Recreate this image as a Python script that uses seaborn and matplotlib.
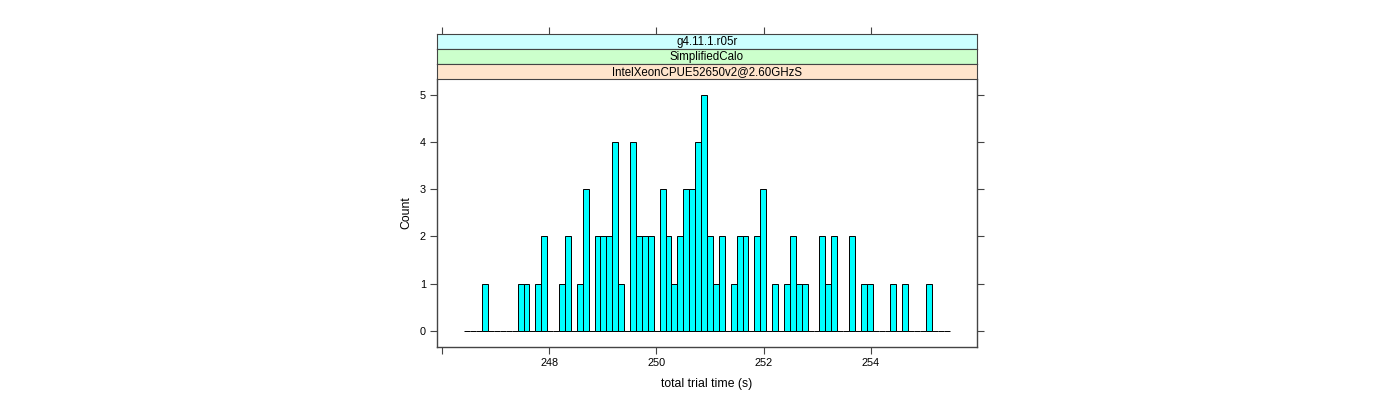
import matplotlib
matplotlib.use("Agg")
import matplotlib.pyplot as plt
import numpy as np
import pandas as pd
import seaborn as sns

# histogram of total trial time
trial_time = [246.81, 247.47, 247.58, 247.80, 247.91, 248.24, 248.35, 248.57, 248.68,
              248.90, 249.01, 249.13, 249.24, 249.35, 249.57, 249.68, 249.79, 249.90,
              250.12, 250.23, 250.34, 250.45, 250.56, 250.67, 250.78, 250.89, 251.00,
              251.11, 251.22, 251.44, 251.55, 251.66, 251.89, 252.00, 252.22, 252.44,
              252.55, 252.66, 252.77, 253.10, 253.21, 253.32, 253.65, 253.87, 253.98,
              254.42, 254.65, 255.09]
count = [1, 1, 1, 1, 2, 1, 2, 1, 3,
         2, 2, 2, 4, 1, 4, 2, 2, 2,
         3, 2, 1, 2, 3, 3, 4, 5, 2,
         1, 2, 1, 2, 2, 2, 3, 1, 1,
         2, 1, 1, 2, 1, 2, 2, 1, 1,
         1, 1, 1]
bin_start, bin_end, n_bins = 246.42, 255.47, 82

strip_labels = ["g4.11.1.r05r", "SimplifiedCalo", "IntelXeonCPUE52650v2@2.60GHzS"]
strip_colors = ["#CCFFFF", "#CCFFCC", "#FFE5CC"]
x_ticks = [246, 248, 250, 252, 254]
x_ticklabels = ["", "248", "250", "252", "254"]
y_ticks = [0, 1, 2, 3, 4, 5]

df = pd.DataFrame({"time": trial_time, "n": count})

sns.set_style("white")
plt.rcParams["font.family"] = ["Liberation Sans", "DejaVu Sans"]
plt.rcParams["text.color"] = "black"
plt.rcParams["axes.labelcolor"] = "black"
fs = 7.8
axcol = "#444444"

fig = plt.figure(figsize=(14, 4), dpi=100)
left, width = 437 / 1400, 540 / 1400
ax = fig.add_axes([left, 53 / 400, width, 268 / 400])

sns.histplot(data=df, x="time", weights="n", bins=n_bins, binrange=(bin_start, bin_end),
             color="#00FFFF", edgecolor="black", linewidth=0.7, alpha=1, ax=ax)

ax.set_xlim(245.91, 255.98)
ax.set_ylim(-0.34, 5.33)
ax.set_xticks(x_ticks)
ax.set_xticklabels(x_ticklabels)
ax.set_yticks(y_ticks)
ax.tick_params(axis="both", direction="out", length=5, width=0.8, color=axcol,
               labelsize=fs, labelcolor="black", pad=3)
ax.tick_params(axis="y", right=True, left=True)
ax.tick_params(axis="x", bottom=True, top=False)
ax.set_xlabel("total trial time (s)", fontsize=8.8, labelpad=7, color="black")
ax.set_ylabel("Count", fontsize=8.8, labelpad=5, color="black")
for s in ax.spines.values():
    s.set_visible(True)
    s.set_color(axcol)
    s.set_linewidth(1)
ax.spines["top"].set_visible(False)
ax.grid(False)

# strips, outermost on top
for i, (lab, col) in enumerate(zip(strip_labels, strip_colors)):
    y0 = (400 - 49 - 15 * i) / 400
    sax = fig.add_axes([left, y0, width, 15 / 400])
    sax.set_facecolor(col)
    sax.set_xlim(ax.get_xlim())
    sax.set_yticks([])
    if i == 0:
        sax.set_xticks(x_ticks)
        sax.set_xticklabels([])
        sax.tick_params(axis="x", top=True, bottom=False, direction="out",
                        length=5, width=0.8, color=axcol, labeltop=False, labelbottom=False)
    else:
        sax.set_xticks([])
    for s in sax.spines.values():
        s.set_color(axcol)
        s.set_linewidth(0.8)
    sax.text(0.5, 0.45, lab, transform=sax.transAxes, ha="center", va="center",
             fontsize=8.3, color="black")

plt.savefig("out.png", dpi=100)
